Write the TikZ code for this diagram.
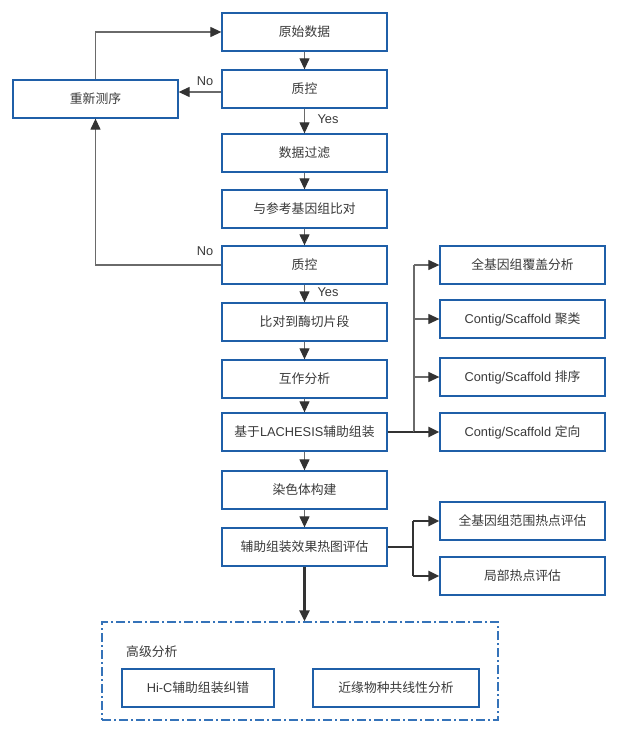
\documentclass[tikz,border=0pt]{standalone}
\usepackage{fontspec}
\setmainfont{Liberation Sans}
\newfontfamily\cjk{Noto Sans CJK SC}
\usetikzlibrary{arrows.meta,calc}
\definecolor{boxblue}{HTML}{1F5FA8}
\definecolor{dashblue}{HTML}{3573B9}
\definecolor{txt}{HTML}{3A3A3A}
\definecolor{lgray}{HTML}{6A6A6A}
\definecolor{dk}{HTML}{333333}
\begin{document}
\begin{tikzpicture}[x=1pt,y=-1pt,
  box/.style={draw=boxblue, line width=1.3pt, minimum width=165pt, minimum height=38pt, inner sep=0pt, text=txt, fill=white, font=\fontsize{12.8}{15}\selectfont},
  sbox/.style={box, minimum width=152pt},
  lab/.style={text=txt, font=\fontsize{12.8}{15}\selectfont, inner sep=1pt},
  arr/.style={draw=lgray, line width=1.2pt, -{Triangle[length=11pt,width=10pt,color=dk]}},
  ln/.style={draw=lgray, line width=1.2pt},
  tarr/.style={draw=dk, line width=2.2pt, -{Triangle[length=11pt,width=10pt,color=dk]}},
  tln/.style={draw=dk, line width=2.2pt},
  dashbox/.style={draw=dashblue, line width=1.2pt, dash pattern=on 9pt off 3pt on 2pt off 3pt, minimum width=396pt, minimum height=98pt, inner sep=0pt}
]
\useasboundingbox (0,0) rectangle (621,733);
\fill[white] (0,0) rectangle (621,733);

% main column
\node[box] (raw)  at (304.5,32)  {\cjk 原始数据};
\node[box] (qc1)  at (304.5,89)  {\cjk 质控};
\node[box] (filt) at (304.5,153) {\cjk 数据过滤};
\node[box] (aln)  at (304.5,209) {\cjk 与参考基因组比对};
\node[box] (qc2)  at (304.5,265) {\cjk 质控};
\node[box] (frag) at (304.5,322) {\cjk 比对到酶切片段};
\node[box] (inter) at (304.5,379) {\cjk 互作分析};
\node[box] (lach) at (304.5,432) {{\cjk 基于}LACHESIS{\cjk 辅助组装}};
\node[box] (chrom) at (304.5,490) {\cjk 染色体构建};
\node[box] (heat) at (304.5,547) {\cjk 辅助组装效果热图评估};

% left
\node[box] (reseq) at (95.5,99) {\cjk 重新测序};

% right column
\node[box] (cov)   at (522.5,265) {\cjk 全基因组覆盖分析};
\node[box] (clust) at (522.5,319) {Contig/Scaffold {\cjk 聚类}};
\node[box] (order) at (522.5,377) {Contig/Scaffold {\cjk 排序}};
\node[box] (orient) at (522.5,432) {Contig/Scaffold {\cjk 定向}};
\node[box] (hot1)  at (522.5,521) {\cjk 全基因组范围热点评估};
\node[box] (hot2)  at (522.5,576) {\cjk 局部热点评估};

% advanced analysis
\node[dashbox] (adv) at (300,671) {};
\node[lab, anchor=west] (advlab) at (125,652) {\cjk 高级分析};
\node[sbox] (hic) at (198,688) {Hi-C{\cjk 辅助组装纠错}};
\node[box, minimum width=166pt] (syn) at (396,688) {\cjk 近缘物种共线性分析};

% main flow arrows
\draw[arr] (raw) -- (qc1);
\draw[arr] (qc1) -- (filt);
\draw[arr] (filt) -- (aln);
\draw[arr] (aln) -- (qc2);
\draw[arr] (qc2) -- (frag);
\draw[arr] (frag) -- (inter);
\draw[arr] (inter) -- (lach);
\draw[arr] (lach) -- (chrom);
\draw[arr] (chrom) -- (heat);
\draw[tarr] (heat.south) -- (heat.south |- adv.north);

% labels
\node[lab] (yes1) at (328,119) {Yes};
\node[lab] (yes2) at (328,292) {Yes};
\node[lab] (no1) at (205,81) {No};
\node[lab] (no2) at (205,251) {No};

% feedback loops
\draw[arr] ([yshift=-3pt]qc1.west) -- ([yshift=-3pt]qc1.west -| reseq.east);
\draw[arr] (reseq.north) |- (raw.west);
\draw[arr] (qc2.west) -| (reseq.south);

% LACHESIS branch
\coordinate (b1) at (414,432);
\draw[tln] (lach.east) -- (b1);
\draw[ln] (b1) -- (b1 |- cov.west);
\draw[arr] (b1 |- cov.west) -- (cov.west);
\draw[arr] (b1 |- clust.west) -- (clust.west);
\draw[arr] (b1 |- order.west) -- (order.west);
\draw[tarr] (b1) -- (orient.west);

% heatmap branch
\coordinate (b2) at (413,547);
\draw[tln] (heat.east) -- (b2);
\draw[tln] (b2 |- hot1.west) -- (b2 |- hot2.west);
\draw[tarr] (b2 |- hot1.west) -- (hot1.west);
\draw[tarr] (b2 |- hot2.west) -- (hot2.west);
\end{tikzpicture}
\end{document}
